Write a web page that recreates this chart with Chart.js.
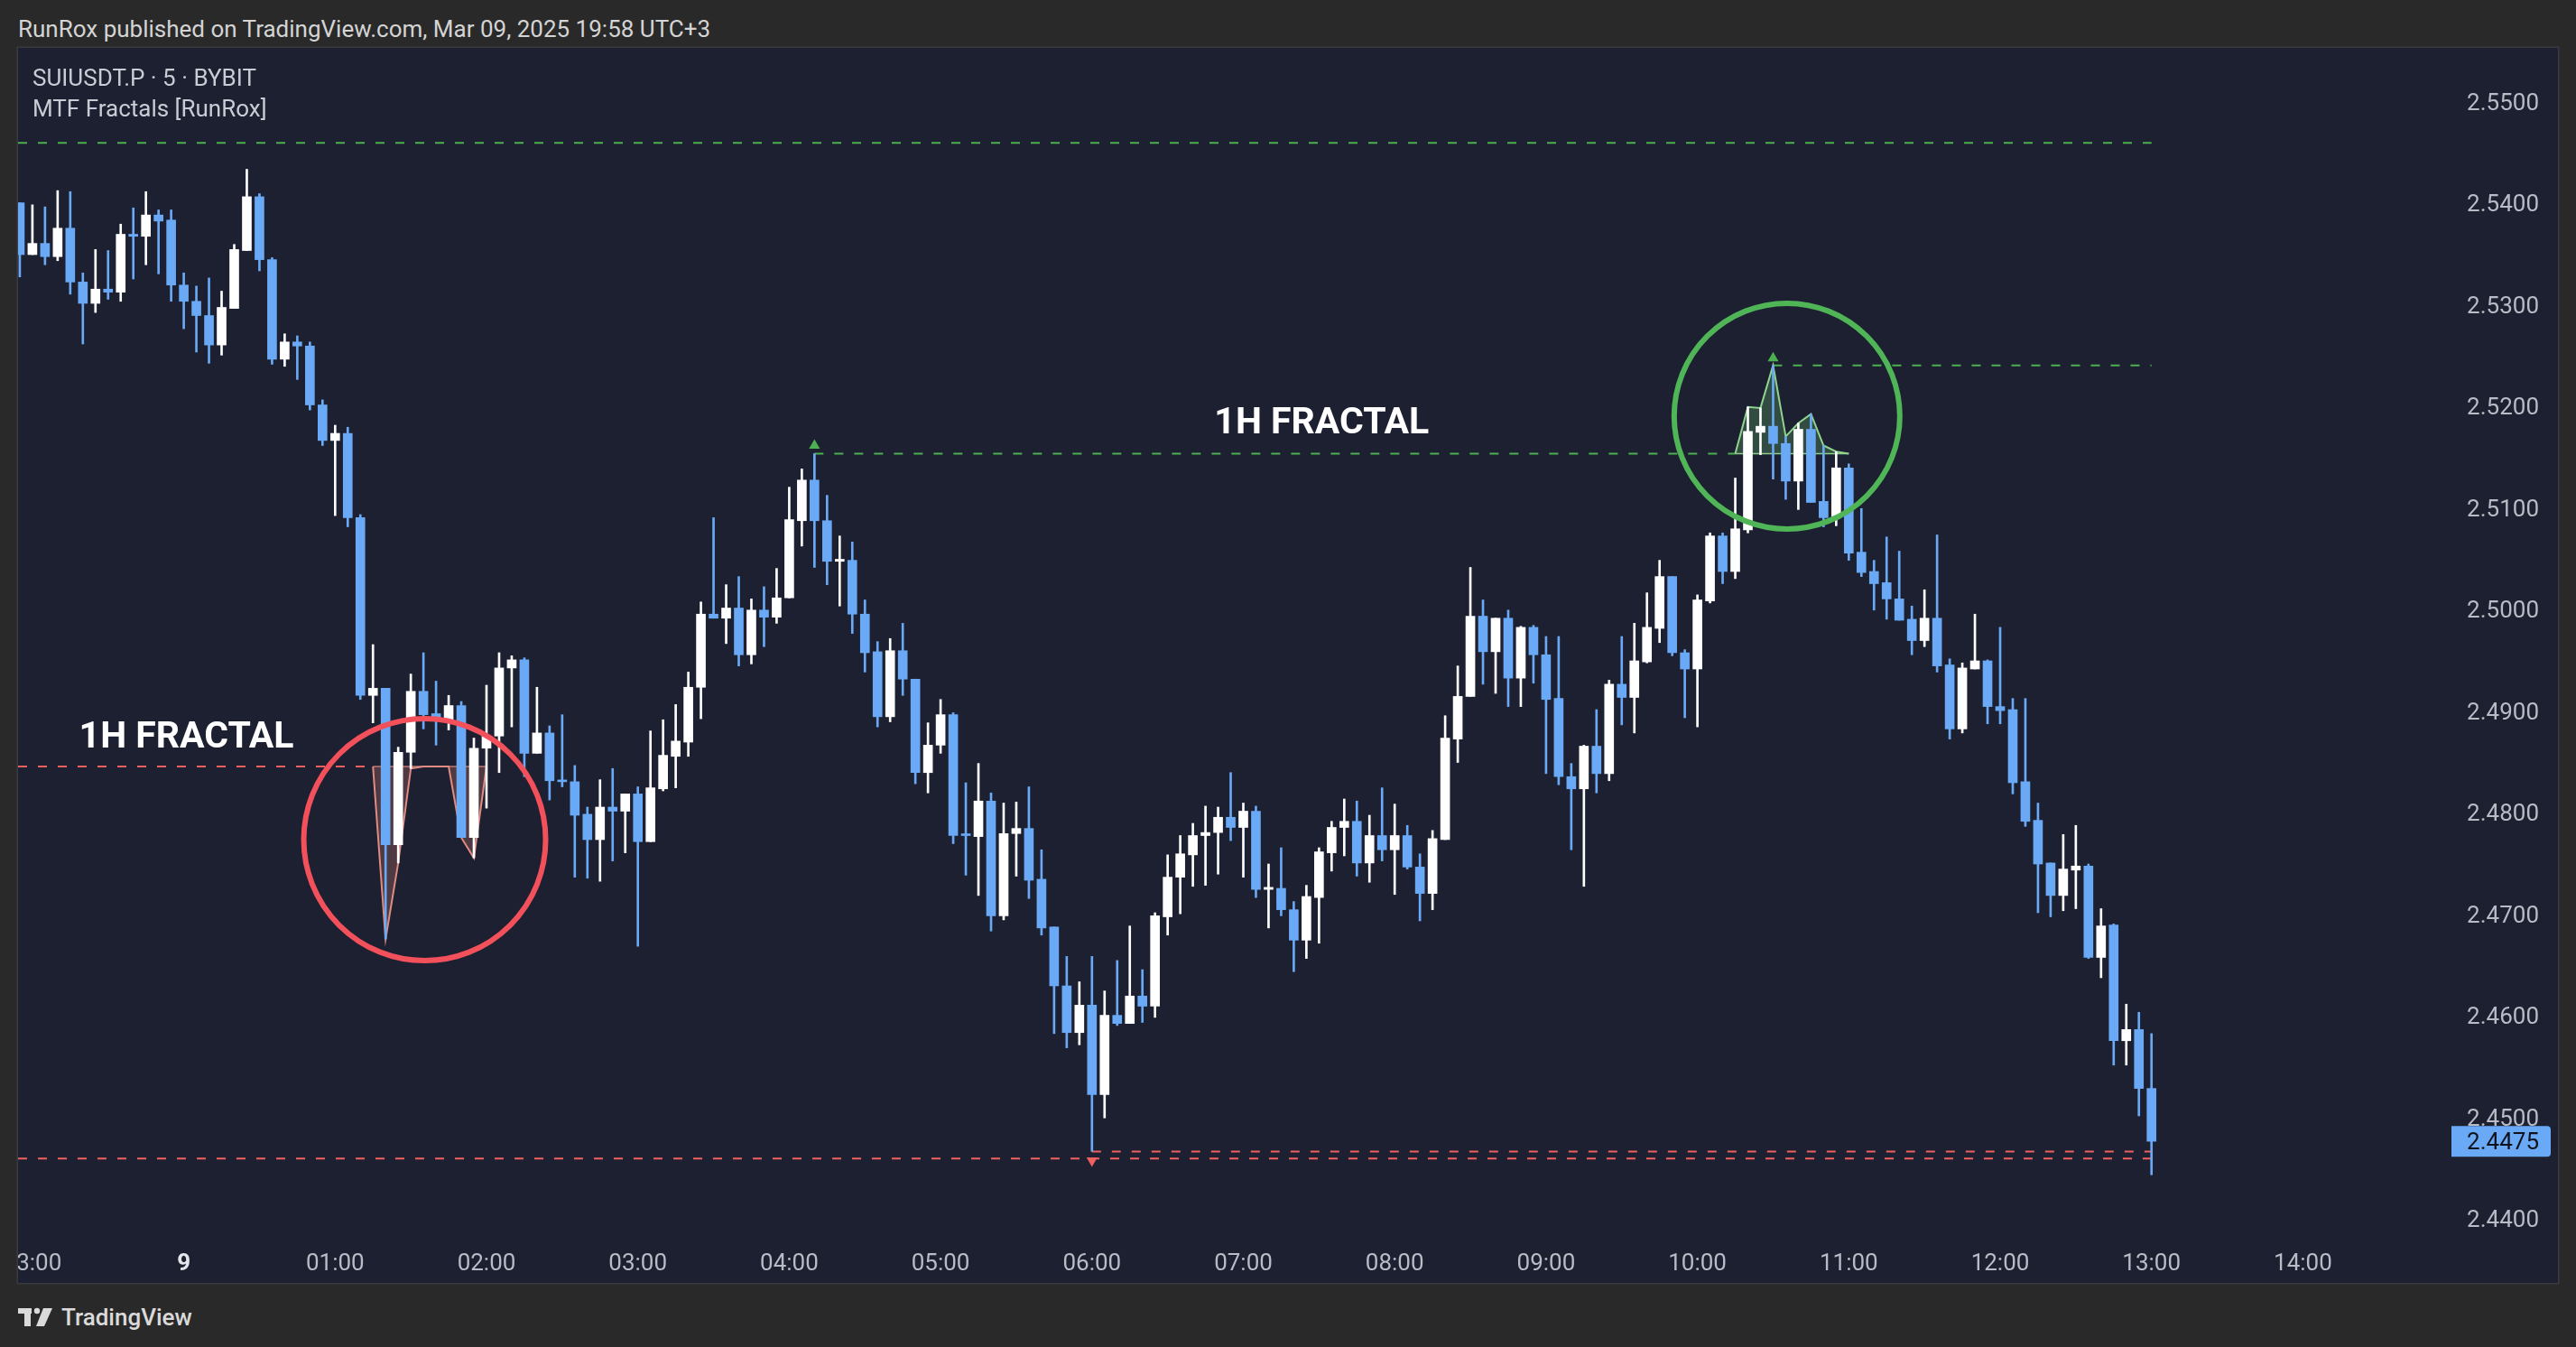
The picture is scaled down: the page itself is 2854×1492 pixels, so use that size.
<!DOCTYPE html>
<html>
<head>
<meta charset="utf-8">
<script src="https://cdn.jsdelivr.net/npm/chart.js@4.4.1/dist/chart.umd.min.js"></script>
<style>
html,body{margin:0;padding:0;background:#292929;width:2854px;height:1492px;overflow:hidden;font-family:Roboto,"Liberation Sans",sans-serif;}
#hdr{position:absolute;left:20px;top:17px;font-size:26px;line-height:30px;color:#d4d4d4;white-space:nowrap;}
#panel{position:absolute;left:20px;top:53px;width:2814px;height:1368px;background:#1c2030;box-shadow:0 0 0 1.5px #3a3b3f;}
#panel canvas{position:absolute;left:0;top:0;}
#legend{position:absolute;left:16px;top:16px;font-size:26px;line-height:34px;color:#c9ccd4;z-index:3;white-space:nowrap;}
#foot{position:absolute;left:20px;top:1444px;height:30px;display:flex;align-items:center;color:#dadada;font-size:26px;font-weight:500;}
#foot svg{margin-right:8px;}
</style>
</head>
<body>
<div id="hdr">RunRox published on TradingView.com, Mar 09, 2025 19:58 UTC+3</div>
<div id="panel">
  <canvas id="c" width="2814" height="1368"></canvas>
  <div id="legend">SUIUSDT.P · 5 · BYBIT<br>MTF Fractals [RunRox]</div>
</div>
<div id="foot"><svg width="40" height="22" viewBox="0 0 40 22"><rect x="0" y="1" width="15" height="6" fill="#dadada"/><rect x="7" y="1" width="7" height="20" fill="#dadada"/><circle cx="21" cy="4" r="3.2" fill="#dadada"/><polygon points="28,1 38,1 29,21 20,21" fill="#dadada"/></svg>TradingView</div>
<script>
// ---- DATA (5-minute candles, first candle 22:55, last 13:00) ----
const startLabel = "22:55";
const open = [
2.5399,2.5348,2.5359,2.5346,2.5374,2.5321,2.5300,2.5314,2.5311,2.5368,
2.5366,2.5387,2.5382,2.5318,2.5302,2.5288,2.5259,2.5295,2.5352,2.5405,
2.5343,2.5245,2.5262,2.5258,2.5200,2.5165,2.5172,2.5089,2.4914,2.4921,
2.4767,2.4858,2.4918,2.4896,2.4890,2.4904,2.4774,2.4862,2.4874,2.4941,
2.4949,2.4857,2.4877,2.4830,2.4829,2.4797,2.4772,2.4804,2.4800,2.4817,
2.4770,2.4822,2.4854,2.4868,2.4922,2.4994,2.4990,2.5000,2.4954,2.4998,
2.4991,2.5010,2.5086,2.5126,2.5086,2.5046,2.5047,2.4994,2.4957,2.4893,
2.4958,2.4930,2.4838,2.4865,2.4895,2.4777,2.4775,2.4810,2.4697,2.4778,
2.4783,2.4733,2.4686,2.4628,2.4582,2.4609,2.4521,2.4599,2.4591,2.4618,
2.4608,2.4696,2.4735,2.4757,2.4776,2.4779,2.4794,2.4784,2.4800,2.4723,
2.4724,2.4703,2.4673,2.4715,2.4759,2.4784,2.4790,2.4749,2.4776,2.4762,
2.4776,2.4745,2.4719,2.4772,2.4871,2.4913,2.4992,2.4957,2.4990,2.4931,
2.4981,2.4954,2.4911,2.4834,2.4822,2.4864,2.4837,2.4925,2.4912,2.4947,
2.4980,2.5031,2.4956,2.4940,2.5007,2.5071,2.5036,2.5077,2.5173,2.5179,
2.5162,2.5125,2.5176,2.5105,2.5089,2.5138,2.5055,2.5036,2.5025,2.5009,
2.4989,2.4968,2.4990,2.4944,2.4881,2.4940,2.4948,2.4903,2.4900,2.4829,
2.4791,2.4749,2.4717,2.4742,2.4746,2.4656,2.4688,2.4574,2.4585,2.4527];
const high = [
2.5399,2.5397,2.5395,2.5411,2.5410,2.5330,2.5353,2.5352,2.5378,2.5394,
2.5410,2.5392,2.5392,2.5330,2.5317,2.5325,2.5312,2.5358,2.5432,2.5408,
2.5345,2.5270,2.5268,2.5262,2.5205,2.5180,2.5178,2.5092,2.4964,2.4921,
2.4863,2.4935,2.4956,2.4928,2.4914,2.4908,2.4872,2.4924,2.4956,2.4953,
2.4951,2.4922,2.4884,2.4895,2.4845,2.4804,2.4831,2.4842,2.4817,2.4824,
2.4879,2.4890,2.4905,2.4937,2.5006,2.5089,2.5023,2.5031,2.5009,2.5021,
2.5039,2.5119,2.5137,2.5152,2.5111,2.5071,2.5065,2.5008,2.4967,2.4970,
2.4985,2.4930,2.4887,2.4910,2.4897,2.4828,2.4847,2.4818,2.4808,2.4809,
2.4824,2.4762,2.4686,2.4657,2.4632,2.4657,2.4623,2.4653,2.4687,2.4644,
2.4700,2.4757,2.4776,2.4788,2.4805,2.4804,2.4838,2.4808,2.4805,2.4748,
2.4764,2.4711,2.4727,2.4764,2.4790,2.4812,2.4810,2.4796,2.4823,2.4807,
2.4786,2.4758,2.4781,2.4894,2.4943,2.5040,2.5008,2.4990,2.4998,2.4982,
2.4983,2.4972,2.4972,2.4847,2.4865,2.4900,2.4929,2.4972,2.4985,2.5015,
2.5047,2.5031,2.4959,2.5013,2.5074,2.5074,2.5128,2.5198,2.5197,2.5239,
2.5169,2.5182,2.5191,2.5160,2.5154,2.5142,2.5098,2.5047,2.5070,2.5056,
2.5002,2.5018,2.5072,2.4950,2.4946,2.4994,2.4949,2.4981,2.4911,2.4911,
2.4808,2.4749,2.4777,2.4786,2.4748,2.4704,2.4689,2.4610,2.4602,2.4581];
const low = [
2.5326,2.5348,2.5338,2.5342,2.5309,2.5260,2.5291,2.5304,2.5302,2.5324,
2.5338,2.5329,2.5302,2.5275,2.5252,2.5241,2.5249,2.5295,2.5352,2.5332,
2.5240,2.5238,2.5225,2.5195,2.5160,2.5091,2.5080,2.4910,2.4887,2.4674,
2.4749,2.4842,2.4881,2.4865,2.4880,2.4774,2.4754,2.4803,2.4838,2.4883,
2.4834,2.4857,2.4811,2.4824,2.4735,2.4734,2.4731,2.4751,2.4759,2.4667,
2.4770,2.4820,2.4823,2.4854,2.4891,2.4990,2.4965,2.4943,2.4945,2.4962,
2.4985,2.5010,2.5061,2.5040,2.5023,2.5002,2.4975,2.4937,2.4883,2.4888,
2.4914,2.4827,2.4818,2.4857,2.4768,2.4737,2.4717,2.4682,2.4693,2.4736,
2.4714,2.4678,2.4581,2.4567,2.4570,2.4465,2.4498,2.4589,2.4591,2.4592,
2.4597,2.4678,2.4699,2.4726,2.4727,2.4738,2.4771,2.4735,2.4715,2.4685,
2.4697,2.4642,2.4655,2.4670,2.4741,2.4756,2.4736,2.4730,2.4751,2.4718,
2.4743,2.4692,2.4703,2.4772,2.4848,2.4913,2.4925,2.4916,2.4903,2.4903,
2.4926,2.4837,2.4826,2.4762,2.4726,2.4818,2.4830,2.4885,2.4877,2.4946,
2.4966,2.4953,2.4892,2.4883,2.5005,2.5024,2.5029,2.5074,2.5151,2.5127,
2.5107,2.5097,2.5104,2.5080,2.5081,2.5047,2.5031,2.4998,2.4989,2.4988,
2.4954,2.4962,2.4937,2.4871,2.4877,2.4940,2.4886,2.4886,2.4817,2.4785,
2.4700,2.4696,2.4702,2.4704,2.4655,2.4636,2.4550,2.4550,2.4500,2.4442];
const close = [
2.5348,2.5359,2.5346,2.5374,2.5321,2.5300,2.5314,2.5311,2.5368,2.5366,
2.5387,2.5381,2.5318,2.5302,2.5288,2.5259,2.5296,2.5353,2.5405,2.5343,
2.5245,2.5262,2.5258,2.5200,2.5165,2.5172,2.5089,2.4914,2.4921,2.4767,
2.4858,2.4918,2.4895,2.4890,2.4904,2.4774,2.4862,2.4874,2.4941,2.4949,
2.4857,2.4877,2.4830,2.4829,2.4796,2.4772,2.4804,2.4800,2.4817,2.4770,
2.4823,2.4855,2.4869,2.4922,2.4994,2.4990,2.5000,2.4954,2.4998,2.4991,
2.5010,2.5087,2.5126,2.5086,2.5046,2.5048,2.4994,2.4956,2.4893,2.4958,
2.4930,2.4838,2.4865,2.4895,2.4776,2.4776,2.4810,2.4697,2.4778,2.4783,
2.4732,2.4685,2.4628,2.4582,2.4609,2.4521,2.4599,2.4591,2.4618,2.4608,
2.4697,2.4735,2.4758,2.4776,2.4779,2.4794,2.4784,2.4800,2.4723,2.4725,
2.4703,2.4673,2.4716,2.4760,2.4784,2.4790,2.4749,2.4776,2.4762,2.4776,
2.4745,2.4719,2.4773,2.4872,2.4913,2.4992,2.4957,2.4990,2.4931,2.4981,
2.4954,2.4910,2.4834,2.4822,2.4864,2.4837,2.4925,2.4912,2.4948,2.4981,
2.5031,2.4956,2.4940,2.5008,2.5071,2.5036,2.5078,2.5174,2.5179,2.5162,
2.5125,2.5176,2.5104,2.5089,2.5138,2.5054,2.5035,2.5024,2.5009,2.4988,
2.4968,2.4990,2.4943,2.4881,2.4941,2.4948,2.4903,2.4899,2.4828,2.4790,
2.4748,2.4717,2.4743,2.4746,2.4656,2.4687,2.4574,2.4585,2.4527,2.4475];

// tick labels
const priceTicks = [2.44,2.45,2.46,2.47,2.48,2.49,2.50,2.51,2.52,2.53,2.54,2.55];
const hourTicks = [-1,0,1,2,3,4,5,6,7,8,9,10,11,12,13,14];
const hourLabels = ["23:00","9","01:00","02:00","03:00","04:00","05:00","06:00","07:00","08:00","09:00","10:00","11:00","12:00","13:00","14:00"];

// fractal levels (prices) drawn as dashed lines
const htfHighLevel = 2.5458;   // green, from left edge
const htfLowLevel = 2.4458;    // red, from left edge
const h1LowLevel = 2.4844;     // red "1H FRACTAL" level, from left edge
const h1HighIdx = 63;          // 04:10 fractal high
const lowFractalIdx = 85;      // 06:00 fractal low
const topFractalIdx = 139;     // 10:30 fractal high
const redSweep = [28, 37];     // candles sweeping the 1H low
const greenSweep = [136, 145]; // candles sweeping the 1H high

// ---- helpers ----
const N = open.length;
const startMin = -65; // 22:55 relative to 00:00 in minutes
const tOf = g => (startMin + g * 5) / 60;
const X_MIN = -1.0948, X_MAX = 14.9457;
const Y_MIN = 2.438089, Y_MAX = 2.555156;
const BLUE = '#6aa9f5', WHITE = '#ffffff';
const GREEN = '#4caf50', RED = '#f0605f';
const lastIdx = N - 1;
const candleColors = close.map((c, i) => c >= open[i] ? WHITE : BLUE);

function dashed(x0, x1, y, color) {
  return {type:'line', data:[{x:x0,y:y},{x:x1,y:y}], borderColor:color, borderWidth:2,
    borderDash:[10,12], pointRadius:0, fill:false, order:3, tension:0};
}
const h1High = high[h1HighIdx];
const lowFr = low[lowFractalIdx];
const topFr = high[topFractalIdx];

const redPoly = [];
for (let g = redSweep[0]; g <= redSweep[1]; g++) {
  const end = g === redSweep[0] || g === redSweep[1];
  redPoly.push({x:tOf(g), y: end ? h1LowLevel : Math.min(low[g], h1LowLevel)});
}
const greenPoly = [];
for (let g = greenSweep[0]; g <= greenSweep[1]; g++) {
  const end = g === greenSweep[0] || g === greenSweep[1];
  greenPoly.push({x:tOf(g), y: end ? h1High : Math.max(high[g], h1High)});
}

const annotations = {
  circles: [
    {g:32.1, p:2.4772, r:134, color:'#f2505a'},
    {g:140.1, p:2.5189, r:125, color:'#4fb556'}
  ],
  texts: [
    {g:4.7, p:2.4872, text:'1H FRACTAL'},
    {g:94.7, p:2.5181, text:'1H FRACTAL'}
  ]
};

const annotPlugin = {
  id: 'annot',
  afterDatasetsDraw(chart) {
    const {ctx, scales:{x, y}} = chart;
    ctx.save();
    annotations.circles.forEach(c => {
      ctx.beginPath();
      ctx.arc(x.getPixelForValue(tOf(c.g)), y.getPixelForValue(c.p), c.r, 0, Math.PI * 2);
      ctx.lineWidth = 6;
      ctx.strokeStyle = c.color;
      ctx.stroke();
    });
    ctx.fillStyle = '#ffffff';
    ctx.font = 'bold 41px Roboto, "Liberation Sans", sans-serif';
    ctx.textAlign = 'left';
    ctx.textBaseline = 'middle';
    annotations.texts.forEach(t => {
      ctx.fillText(t.text, x.getPixelForValue(tOf(t.g)), y.getPixelForValue(t.p));
    });
    ctx.restore();
  },
  afterDraw(chart) {
    const {ctx, scales:{y}} = chart;
    const yy = y.getPixelForValue(close[lastIdx]);
    const left = y.left + 6, right = y.right + 13, h = 34;
    ctx.save();
    ctx.fillStyle = BLUE;
    ctx.beginPath();
    ctx.roundRect(left, yy - h / 2, right - left, h, [0, 4, 4, 0]);
    ctx.fill();
    ctx.fillStyle = '#10131c';
    ctx.font = '26px Roboto, "Liberation Sans", sans-serif';
    ctx.textAlign = 'right';
    ctx.textBaseline = 'middle';
    ctx.fillText(close[lastIdx].toFixed(4), y.right, yy + 2);
    ctx.restore();
  }
};

new Chart(document.getElementById('c'), {
  type: 'bar',
  data: {
    datasets: [
      {type:'bar', data: open.map((o, i) => ({x:tOf(i), y:[o, close[i]]})), backgroundColor:candleColors,
        barThickness:10, grouped:false, minBarLength:2, borderWidth:0, order:0},
      {type:'bar', data: low.map((l, i) => ({x:tOf(i), y:[l, high[i]]})), backgroundColor:candleColors,
        barThickness:2, grouped:false, borderWidth:0, order:1},
      {type:'line', data:[{x:tOf(h1HighIdx), y:h1High + 0.0008}], showLine:false, pointStyle:'triangle',
        pointRadius:7, pointBackgroundColor:GREEN, pointBorderWidth:0, order:0},
      {type:'line', data:[{x:tOf(topFractalIdx), y:topFr + 0.0007}], showLine:false, pointStyle:'triangle',
        pointRadius:7, pointBackgroundColor:GREEN, pointBorderWidth:0, order:0},
      {type:'line', data:[{x:tOf(lowFractalIdx), y:lowFr - 0.0009}], showLine:false, pointStyle:'triangle',
        pointRotation:180, pointRadius:7, pointBackgroundColor:RED, pointBorderWidth:0, order:0},
      {type:'line', data:redPoly, borderColor:'#e08c82', borderWidth:2, backgroundColor:'rgba(242,136,125,0.24)',
        fill:{value:h1LowLevel}, pointRadius:0, tension:0, order:2},
      {type:'line', data:[redPoly[0], redPoly[redPoly.length-1]], borderColor:'rgba(224,140,130,0.8)', borderWidth:1.5, pointRadius:0, fill:false, order:2},
      {type:'line', data:greenPoly, borderColor:'#8fd48f', borderWidth:2, backgroundColor:'rgba(110,190,110,0.28)',
        fill:{value:h1High}, pointRadius:0, tension:0, order:2},
      {type:'line', data:[greenPoly[0], greenPoly[greenPoly.length-1]], borderColor:'#8fd48f', borderWidth:1.5, pointRadius:0, fill:false, order:2},
      dashed(X_MIN, tOf(lastIdx), htfHighLevel, GREEN),
      dashed(X_MIN, tOf(lastIdx), htfLowLevel, RED),
      dashed(X_MIN, tOf(redSweep[0]), h1LowLevel, RED),
      dashed(tOf(h1HighIdx), tOf(greenSweep[0]), h1High, GREEN),
      dashed(tOf(lowFractalIdx), tOf(lastIdx), lowFr, RED),
      dashed(tOf(topFractalIdx), tOf(lastIdx), topFr, GREEN)
    ]
  },
  options: {
    responsive:false, animation:false, devicePixelRatio:1,
    layout:{autoPadding:false, padding:{left:0, right:21, top:0, bottom:0}},
    plugins:{legend:{display:false}, tooltip:{enabled:false}},
    scales: {
      x: {
        type:'linear', min:X_MIN, max:X_MAX, offset:false,
        grid:{display:false, drawTicks:false}, border:{display:false},
        ticks:{autoSkip:false, maxRotation:0, minRotation:0, padding:15,
          color:(c) => c.tick && c.tick.value === 0 ? '#e4e6eb' : '#b8bcc6',
          font:(c) => ({family:'Roboto', size:26, weight: c.tick && c.tick.value === 0 ? 'bold' : 'normal'}),
          callback:(v) => hourLabels[hourTicks.indexOf(v)]},
        afterBuildTicks:(s) => { s.ticks = hourTicks.map(v => ({value:v})); },
        afterFit:(s) => { s.height = 51; s.paddingLeft = 0; s.paddingRight = 0; }
      },
      y: {
        position:'right', min:Y_MIN, max:Y_MAX,
        grid:{display:false, drawTicks:false}, border:{display:false},
        ticks:{crossAlign:'far', padding:0, labelOffset:4, color:'#b8bcc6', font:{family:'Roboto', size:26},
          callback:(v) => Number(v).toFixed(4)},
        afterBuildTicks:(s) => { s.ticks = priceTicks.map(v => ({value:v})); },
        afterFit:(s) => { s.width = 103; s.paddingTop = 0; s.paddingBottom = 0; }
      }
    }
  },
  plugins:[annotPlugin]
});
</script>
</body>
</html>
